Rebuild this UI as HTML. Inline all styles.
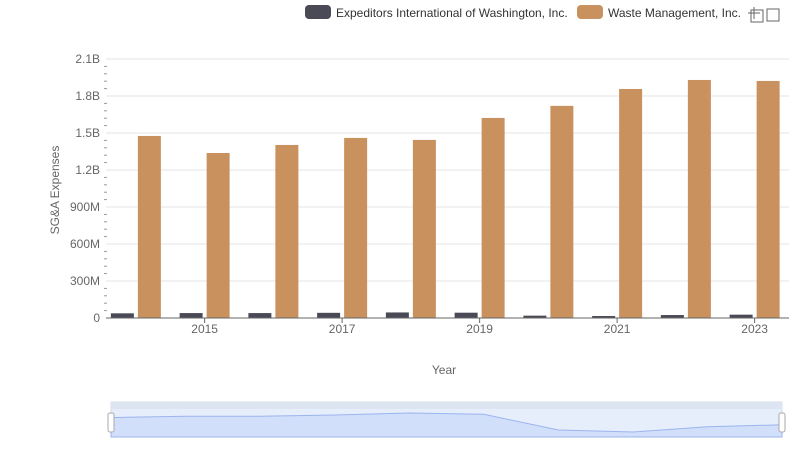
<!DOCTYPE html>
<html><head><meta charset="utf-8"><style>
body{margin:0;background:#fff;font-family:"Liberation Sans",sans-serif;}
svg text{font-family:"Liberation Sans",sans-serif;}
</style></head><body>
<svg id="c" width="800" height="461">
  <g>
    <g>
      <rect x="305" y="5" width="26" height="14" rx="4" fill="#4a4a57"/>
      <text x="336" y="17" font-size="12" fill="#333">Expeditors International of Washington, Inc.</text>
    </g>
    <g>
      <rect x="577" y="5" width="26" height="14" rx="4" fill="#c9915e"/>
      <text x="608" y="17" font-size="12" fill="#333">Waste Management, Inc.</text>
    </g>
  </g>
  <g stroke="#666" fill="none">
    <path d="M748 13h12M754 7v12"/><rect x="751" y="10" width="12" height="12"/><path d="M767 9h12v12h-12z"/>
  </g>
  <text transform="translate(59,190) rotate(-90)" text-anchor="middle" font-size="12" fill="#666">SG&amp;A Expenses</text>
  <text x="444" y="374" text-anchor="middle" font-size="12" fill="#666">Year</text>
  <g id="grid"></g><g id="bars"></g><g id="axes"></g>
  <g>
    <rect x="111" y="402" width="671" height="35" fill="#e6edfb" stroke="#d5dcea"/>
    <rect x="111" y="402" width="671" height="7" fill="#dde4f2"/>
    <path id="nav" fill="#d2dffb" stroke="#9bb5ee"/>
    <rect x="108" y="413" width="6" height="19" rx="2" fill="#fff" stroke="#aaa"/>
    <rect x="779" y="413" width="6" height="19" rx="2" fill="#fff" stroke="#aaa"/>
  </g>
</svg>
<script>
const years=[2014,2015,2016,2017,2018,2019,2020,2021,2022,2023];
const expeditors=[38e6,40e6,40e6,42e6,45e6,43e6,19e6,16e6,24e6,27e6];
const waste=[1.476e9,1.338e9,1.403e9,1.46e9,1.444e9,1.622e9,1.72e9,1.857e9,1.93e9,1.922e9];
const yTicks=[0,3e8,6e8,9e8,1.2e9,1.5e9,1.8e9,2.1e9];
const yLabels=["0","300M","600M","900M","1.2B","1.5B","1.8B","2.1B"];
const xLabels=["2015","2017","2019","2021","2023"];
const NS="http://www.w3.org/2000/svg";
const L=101.5,R=789,T=59,B=318,yMax=2.1e9;
const bw=(R-L)/years.length;
const y=v=>B-(v/yMax)*(B-T);
const xc=i=>L+bw*(i+0.5);
function mk(p,t,a){const e=document.createElementNS(NS,t);for(const k in a)e.setAttribute(k,a[k]);p.appendChild(e);return e;}
const grid=document.getElementById('grid'),axes=document.getElementById('axes'),bars=document.getElementById('bars');
yTicks.forEach((v,i)=>{
  if(v>0){const g=mk(grid,'line',{x1:106,x2:R,y1:y(v),y2:y(v),stroke:'#e6e6e6'});
  
  }
  const t=mk(axes,'text',{x:100,y:y(v)+4,'text-anchor':'end','font-size':12,fill:'#666'});t.textContent=yLabels[i];
  
  
  if(i<yTicks.length-1)for(let k=1;k<5;k++){mk(axes,'line',{x1:104,x2:107,y1:y(v+k*0.06e9*5/5*1),y2:y(v+k*0.06e9),stroke:'#999'});}
});
years.forEach((yr,i)=>{
  const c=xc(i);
  const a=mk(bars,'rect',{x:c-25,y:y(expeditors[i]),width:23,height:B-y(expeditors[i]),fill:'#4a4a57'});
  
  
  const b=mk(bars,'rect',{x:c+2,y:y(waste[i]),width:23,height:B-y(waste[i]),fill:'#c9915e'});
  
  
  if(xLabels.includes(String(yr))){
    mk(axes,'line',{x1:c,x2:c,y1:B,y2:B+5,stroke:'#666'});
    const t=mk(axes,'text',{x:c,y:B+15,'text-anchor':'middle','font-size':12,fill:'#666'});t.textContent=yr;
    
    
  }
});
const ax=mk(axes,'line',{x1:106,x2:R,y1:B,y2:B,stroke:'#666'});


// navigator
const mx=Math.max(...expeditors),mn=Math.min(...expeditors);
const nx=i=>111+i*671/(years.length-1);
const ny=v=>432-(v-mn)/(mx-mn)*19;
let d='M111 437';years.forEach((_,i)=>d+=' L'+nx(i)+' '+ny(expeditors[i]));d+=' L782 437Z';
document.getElementById('nav').setAttribute('d',d);
</script>
</body></html>
